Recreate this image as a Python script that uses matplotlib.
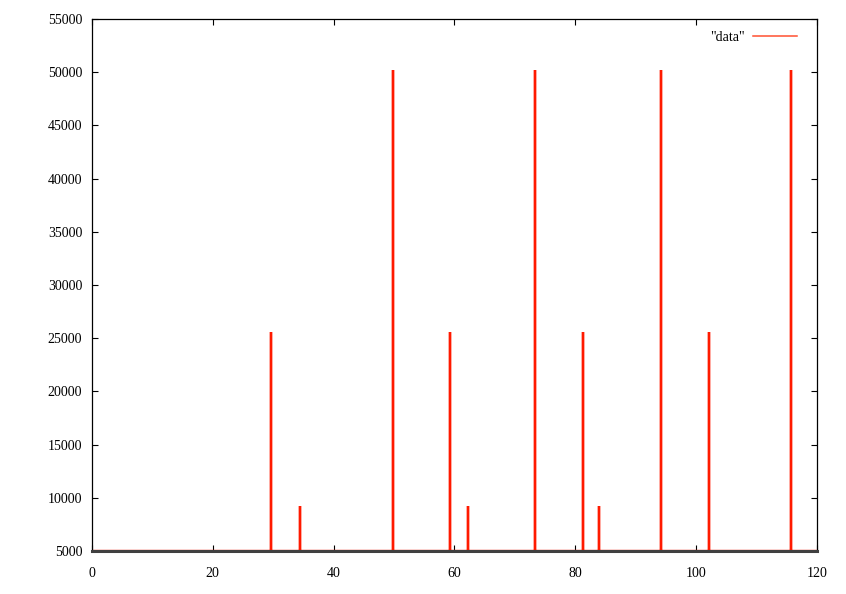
import matplotlib.pyplot as plt

# spike positions and heights (baseline 5000)
spike_x = [29.6, 34.4, 49.8, 59.25, 62.2, 73.3, 81.3, 83.9, 94.2, 102.1, 115.7]
spike_y = [25600, 9200, 50200, 25600, 9200, 50200, 25600, 9200, 50200, 25600, 50200]
baseline = 5000

xs = [0]
ys = [baseline]
for x, h in zip(spike_x, spike_y):
    xs += [x, x, x]
    ys += [baseline, h, baseline]
xs.append(120)
ys.append(baseline)

plt.rcParams['font.family'] = ['Liberation Serif', 'DejaVu Serif']

fig = plt.figure(figsize=(8.46, 5.94), dpi=100)
ax = fig.add_axes([0.1087, 0.0724, 0.857, 0.8956])

ax.plot(xs, ys, color='#ff1a00', linewidth=1.7, label='"data"', solid_joinstyle='miter')

ax.set_xlim(0, 120)
ax.set_ylim(5000, 55000)
ax.set_xticks(range(0, 121, 20))
ax.set_yticks(range(5000, 55001, 5000))

ax.tick_params(direction='in', length=4.5, width=0.8, top=True, right=True,
               labelsize=10)
ax.tick_params(axis='x', pad=11.5)
ax.tick_params(axis='y', pad=7)

for s in ['top', 'left', 'right']:
    ax.spines[s].set_linewidth(0.9)
ax.spines['bottom'].set_color('#404040')
ax.spines['bottom'].set_linewidth(2.2)
ax.spines['bottom'].set_zorder(3)

leg = ax.legend(loc='center right', bbox_to_anchor=(0.9487, 0.9377),
                bbox_transform=fig.transFigure, frameon=False, fontsize=10,
                handlelength=3.2, handletextpad=0.6, borderaxespad=0,
                markerfirst=False)
for line in leg.get_lines():
    line.set_linewidth(1.1)
    line.set_color('#ff5030')

fig.savefig('out.png', dpi=100)
